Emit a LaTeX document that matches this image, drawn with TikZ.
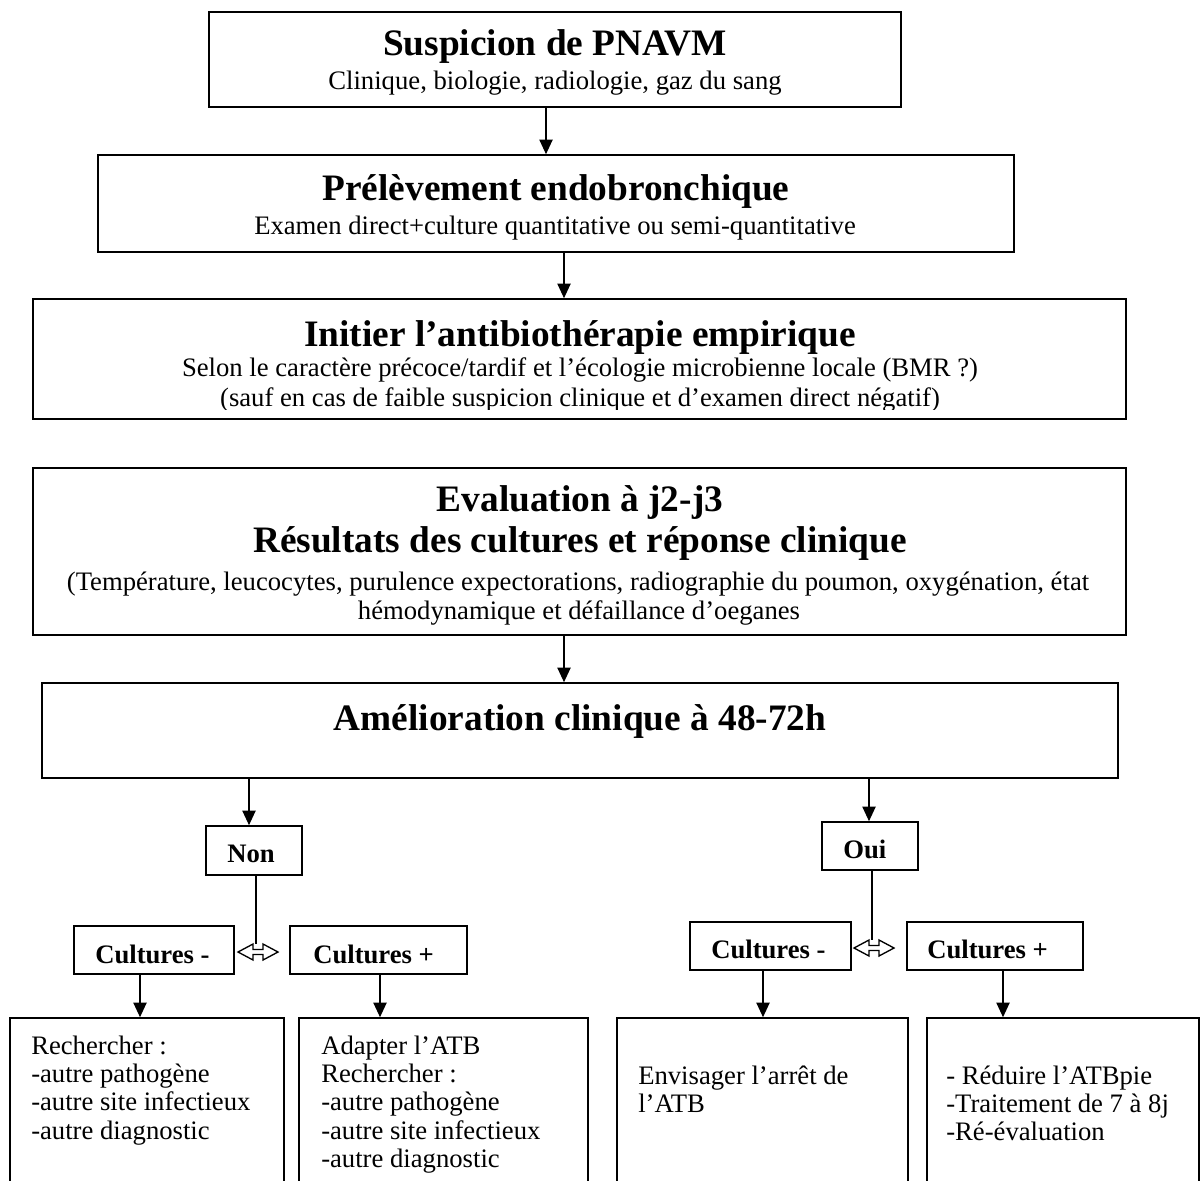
\documentclass[tikz,border=0pt]{standalone}
\usepackage{fontspec}
\setmainfont{Liberation Serif}
\usetikzlibrary{arrows.meta,fit}
\begin{document}
\begin{tikzpicture}[x=0.75pt,y=-0.75pt,
  box/.style={draw, line width=1.2pt, inner sep=0pt},
  ttl/.style={font=\fontsize{28}{31}\selectfont\bfseries, anchor=base, inner sep=0pt},
  sub/.style={font=\fontsize{20}{21.3}\selectfont, anchor=base, inner sep=0pt},
  lbl/.style={font=\fontsize{20}{21.3}\selectfont\bfseries, anchor=base west, inner sep=0pt},
  lst/.style={font=\fontsize{20}{21.3}\selectfont, anchor=base west, inner sep=0pt, text width=195pt, align=flush left},
  arr/.style={line width=1pt, -{Triangle[length=11pt,width=10pt]}},
  ln/.style={line width=1pt}]
\useasboundingbox (0,0) rectangle (1201,1180);
\clip (0,0) rectangle (1201,1180);

% boxes
\node[box, fit={(209,12) (901,107)}] (bx1) {};
\node[box, fit={(98,155) (1014,252)}] (bx2) {};
\node[box, fit={(33,299) (1126,419)}] (bx3) {};
\node[box, fit={(33,468) (1126,635)}] (bx4) {};
\node[box, fit={(42,683) (1118,778)}] (bx5) {};
\node[box, fit={(206,826) (302,875)}] (non) {};
\node[box, fit={(822,822) (918,870)}] (oui) {};
\node[box, fit={(74,926) (234,974)}] (cl1) {};
\node[box, fit={(290,926) (467,974)}] (cl2) {};
\node[box, fit={(690,922) (851,970)}] (cr1) {};
\node[box, fit={(907,922) (1083,970)}] (cr2) {};
\node[box, fit={(10,1018) (284,1240)}] (b1) {};
\node[box, fit={(299,1018) (588,1240)}] (b2) {};
\node[box, fit={(617,1018) (908,1240)}] (b3) {};
\node[box, fit={(927,1018) (1199,1240)}] (b4) {};

% texts
\node[ttl] (t1) at (555,56) {Suspicion de PNAVM};
\node[sub] (s1) at (555,90) {Clinique, biologie, radiologie, gaz du sang};
\node[ttl] (t2) at (556,201) {Prélèvement endobronchique};
\node[sub] (s2) at (555,235) {Examen direct+culture quantitative ou semi-quantitative};
\begin{scope}
\clip (33,299) rectangle (1126,409);
\node[ttl] (t3) at (580,346) {Initier l’antibiothérapie empirique};
\node[sub] (s3a) at (580,376) {Selon le caractère précoce/tardif et l’écologie microbienne locale (BMR ?)};
\node[sub] (s3b) at (580,406) {(sauf en cas de faible suspicion clinique et d’examen direct négatif)};
\end{scope}
\node[ttl] (t4a) at (580,511) {Evaluation à j2-j3};
\node[ttl] (t4b) at (580,552) {Résultats des cultures et réponse clinique};
\node[sub] (s4a) at (578,590) {(Température, leucocytes, purulence expectorations, radiographie du poumon, oxygénation, état};
\node[sub] (s4b) at (579,619) {hémodynamique et défaillance d’oeganes};
\node[ttl] (t5) at (580,730) {Amélioration clinique à 48-72h};

\node[lbl] (nont) at (227,862) {Non};
\node[lbl] (ouit) at (843,858) {Oui};
\node[lbl] (cl1t) at (95,963) {Cultures -};
\node[lbl] (cl2t) at (313,963) {Cultures +};
\node[lbl] (cr1t) at (711,958) {Cultures -};
\node[lbl] (cr2t) at (927,958) {Cultures +};

\node[lst] (b1t) at (31,1054) {Rechercher :\\-autre pathogène\\-autre site infectieux\\-autre diagnostic};
\node[lst] (b2t) at (321,1054) {Adapter l’ATB\\Rechercher :\\-autre pathogène\\-autre site infectieux\\-autre diagnostic};
\node[lst] (b3t) at (638,1084) {Envisager l’arrêt de\\l’ATB};
\node[lst] (b4t) at (946,1084) {- Réduire l’ATBpie\\-Traitement de 7 à 8j\\-Ré-évaluation};

% arrows
\coordinate (a1) at (546,0);
\coordinate (a2) at (564,0);
\coordinate (a4) at (249,0);
\coordinate (a5) at (869,0);
\coordinate (a6) at (140,0);
\coordinate (a7) at (380,0);
\coordinate (a8) at (763,0);
\coordinate (a9) at (1003,0);
\draw[arr] (a1 |- bx1.south) -- (a1 |- bx2.north);
\draw[arr] (a2 |- bx2.south) -- (a2 |- bx3.north);
\draw[arr] (a2 |- bx4.south) -- (a2 |- bx5.north);
\draw[arr] (a4 |- bx5.south) -- (a4 |- non.north);
\draw[arr] (a5 |- bx5.south) -- (a5 |- oui.north);
\draw[arr] (a6 |- cl1.south) -- (a6 |- b1.north);
\draw[arr] (a7 |- cl2.south) -- (a7 |- b2.north);
\draw[arr] (a8 |- cr1.south) -- (a8 |- b3.north);
\draw[arr] (a9 |- cr2.south) -- (a9 |- b4.north);

% lines to double arrows
\coordinate (dA) at (256,944);
\coordinate (dB) at (872,940);
\draw[ln] (dA |- non.south) -- (dA);
\draw[ln] (dB |- oui.south) -- (dB);

% double-headed open arrows
\draw[ln] (238,952) -- ++(15,-8) -- ++(0,5.5) -- ++(10,0) -- ++(0,-5.5) -- ++(15,8)
  -- ++(-15,8) -- ++(0,-5.5) -- ++(-10,0) -- ++(0,5.5) -- cycle;
\draw[ln] (854,948) -- ++(15,-8) -- ++(0,5.5) -- ++(10,0) -- ++(0,-5.5) -- ++(15,8)
  -- ++(-15,8) -- ++(0,-5.5) -- ++(-10,0) -- ++(0,5.5) -- cycle;
\end{tikzpicture}
\end{document}
